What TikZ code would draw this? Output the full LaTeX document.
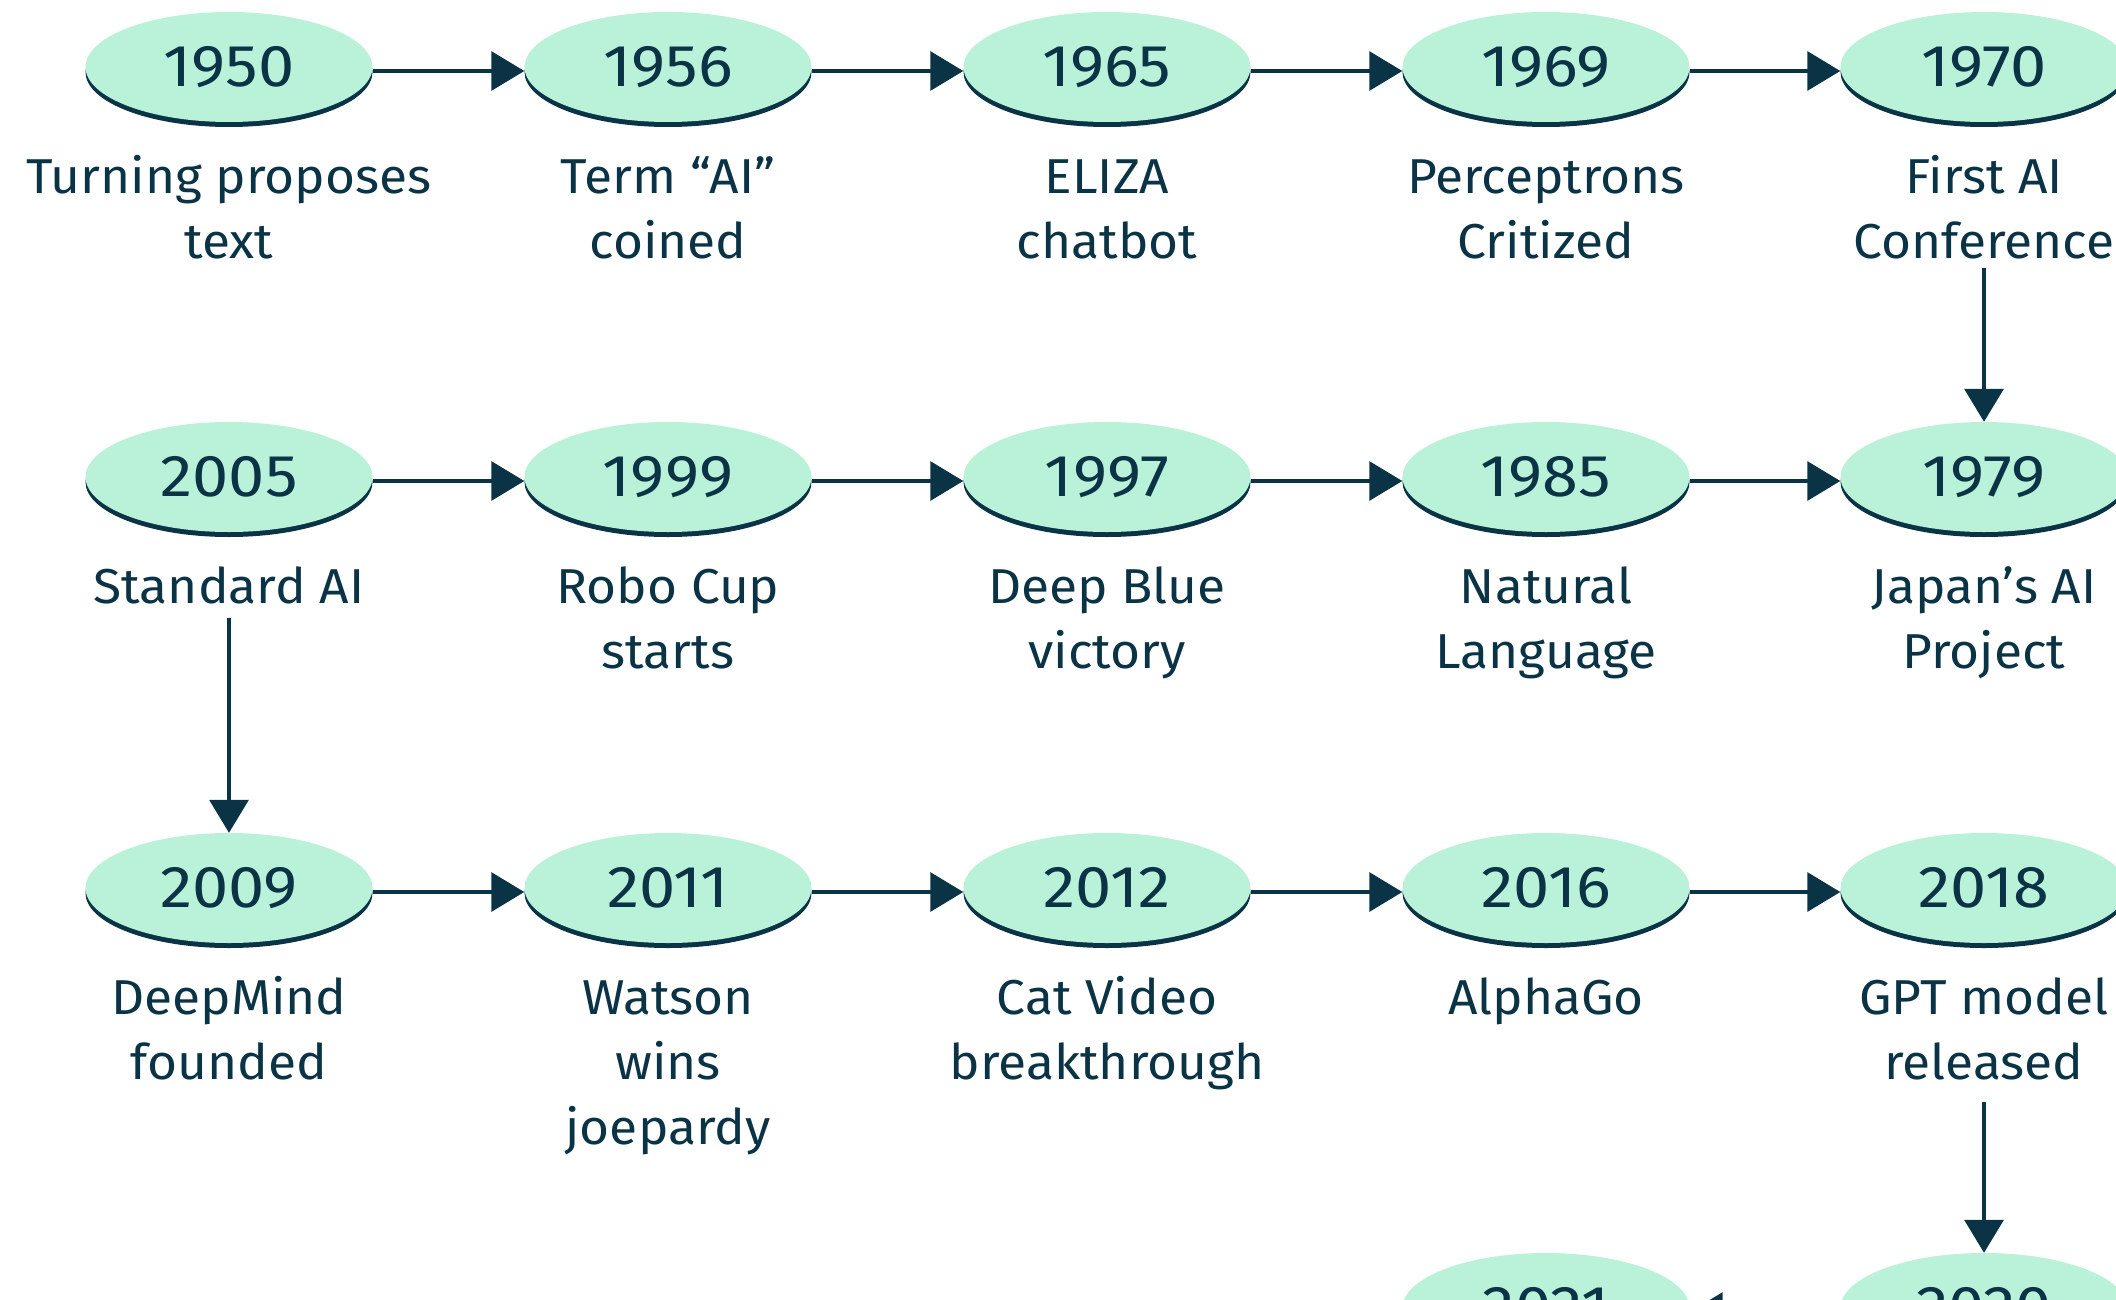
\documentclass[tikz,border=0pt]{standalone}
\usepackage{fontspec}
\setmainfont{Fira Sans}
\newfontfamily\yearfont[FakeStretch=1.1]{Fira Sans}
\newfontfamily\lblfont[FakeStretch=1.05]{Fira Sans}
\usetikzlibrary{arrows.meta,shapes.geometric,shadows}
\definecolor{navy}{HTML}{0B3346}
\definecolor{mint}{HTML}{B9F1D9}
\newcommand{\ls}{\rule{0pt}{38pt}}
\begin{document}
\begin{tikzpicture}[x=1pt,y=-1pt,
  year/.style={ellipse, fill=mint, inner sep=0pt, minimum width=287pt, minimum height=110pt,
    text=navy, font=\yearfont\fontsize{59}{60}\selectfont,
    drop shadow={shadow xshift=0pt, shadow yshift=-5pt, opacity=1, fill=navy}},
  lbl/.style={anchor=north, inner sep=0pt, align=center, text=navy,
    font=\lblfont\fontsize{49}{65}\selectfont},
  arr/.style={draw=navy, line width=3.3pt, -{Triangle[length=33pt,width=39pt]}}
]
\useasboundingbox (0,0) rectangle (2116,1300);
\clip (0,0) rectangle (2116,1300);
% row 1
\node[year] (y1950) at (229,67) {1950};
\node[year] (y1956) at (668,67) {1956};
\node[year] (y1965) at (1107,67) {1965};
\node[year] (y1969) at (1546,67) {1969};
\node[year] (y1970) at (1984,67) {1970};
\node[lbl] (l1950) at (229,155) {\ls Turning proposes\\text};
\node[lbl] (l1956) at (668,155) {\ls Term “AI”\\coined};
\node[lbl] (l1965) at (1107,155) {\ls ELIZA\\chatbot};
\node[lbl] (l1969) at (1546,155) {\ls Perceptrons\\Critized};
\node[lbl] (l1970) at (1984,155) {\ls First AI\\Conference};
% row 2
\node[year] (y2005) at (229,477) {2005};
\node[year] (y1999) at (668,477) {1999};
\node[year] (y1997) at (1107,477) {1997};
\node[year] (y1985) at (1546,477) {1985};
\node[year] (y1979) at (1984,477) {1979};
\node[lbl] (l2005) at (229,565) {\ls Standard AI};
\node[lbl] (l1999) at (668,565) {\ls Robo Cup\\starts};
\node[lbl] (l1997) at (1107,565) {\ls Deep Blue\\victory};
\node[lbl] (l1985) at (1546,565) {\ls Natural\\Language};
\node[lbl] (l1979) at (1984,565) {\ls Japan’s AI\\Project};
% row 3
\node[year] (y2009) at (229,888) {2009};
\node[year] (y2011) at (668,888) {2011};
\node[year] (y2012) at (1107,888) {2012};
\node[year] (y2016) at (1546,888) {2016};
\node[year] (y2018) at (1984,888) {2018};
\node[lbl] (l2009) at (229,976) {\ls DeepMind\\founded};
\node[lbl] (l2011) at (668,976) {\ls Watson\\wins\\joepardy};
\node[lbl] (l2012) at (1107,976) {\ls Cat Video\\breakthrough};
\node[lbl] (l2016) at (1546,976) {\ls AlphaGo};
\node[lbl] (l2018) at (1984,976) {\ls GPT model\\released};
% row 4
\node[year] (y2021) at (1546,1308) {2021};
\node[year] (y2020) at (1984,1308) {2020};
% connectors
\draw[arr] ([yshift=-4pt]y1950.east) -- ([yshift=-4pt]y1956.west);
\draw[arr] ([yshift=-4pt]y1956.east) -- ([yshift=-4pt]y1965.west);
\draw[arr] ([yshift=-4pt]y1965.east) -- ([yshift=-4pt]y1969.west);
\draw[arr] ([yshift=-4pt]y1969.east) -- ([yshift=-4pt]y1970.west);
\draw[arr, shorten <=9pt] (l1970.south) -- (y1979.north);
\draw[arr] ([yshift=-4pt]y2005.east) -- ([yshift=-4pt]y1999.west);
\draw[arr] ([yshift=-4pt]y1999.east) -- ([yshift=-4pt]y1997.west);
\draw[arr] ([yshift=-4pt]y1997.east) -- ([yshift=-4pt]y1985.west);
\draw[arr] ([yshift=-4pt]y1985.east) -- ([yshift=-4pt]y1979.west);
\draw[arr, shorten <=14pt] (l2005.south) -- (y2009.north);
\draw[arr] ([yshift=-4pt]y2009.east) -- ([yshift=-4pt]y2011.west);
\draw[arr] ([yshift=-4pt]y2011.east) -- ([yshift=-4pt]y2012.west);
\draw[arr] ([yshift=-4pt]y2012.east) -- ([yshift=-4pt]y2016.west);
\draw[arr] ([yshift=-4pt]y2016.east) -- ([yshift=-4pt]y2018.west);
\draw[arr, shorten <=22pt] (l2018.south) -- (y2020.north);
\draw[arr] ([yshift=-4pt]y2020.west) -- ([yshift=-4pt]y2021.east);
\end{tikzpicture}
\end{document}
